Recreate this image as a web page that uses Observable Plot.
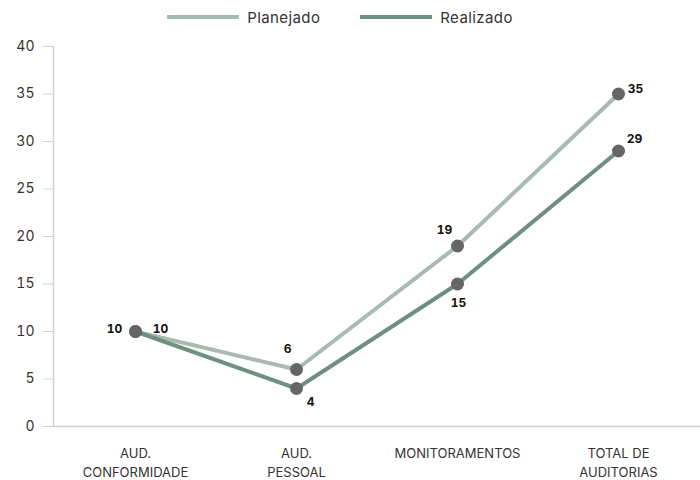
<!DOCTYPE html>
<html>
<head>
<meta charset="utf-8">
<script src="https://cdn.jsdelivr.net/npm/d3@7"></script>
<script src="https://cdn.jsdelivr.net/npm/@observablehq/plot@0.6"></script>
<style>
  html, body { margin: 0; padding: 0; background: #fff; }
  body { width: 700px; font-family: Inter, "Noto Sans", sans-serif; color: #333; }
  .legend { height: 34px; display: flex; justify-content: center; align-items: center; font-size: 15px; letter-spacing: 0.4px; padding-left: 0; padding-right: 20px; box-sizing: border-box; }
  .legend .item { display: flex; align-items: center; margin: 0 20px; }
  .legend .swatch { width: 72px; height: 4px; margin-right: 8px; }
  svg { display: block; }
</style>
</head>
<body>
<div id="chart"></div>
<script>
// Categories and the two series (planned vs. completed audits)
const categories = ["AUD.\nCONFORMIDADE", "AUD.\nPESSOAL", "MONITORAMENTOS", "TOTAL DE\nAUDITORIAS"];
const planejado = [10, 6, 19, 35];
const realizado = [10, 4, 15, 29];
const seriesNames = ["Planejado", "Realizado"];
const seriesColors = ["#a9bab0", "#6f8f81"];
const yTicks = [0, 5, 10, 15, 20, 25, 30, 35, 40];

const rows = [
  ...categories.map((c, i) => ({serie: "Planejado", cat: c, value: planejado[i], idx: i})),
  ...categories.map((c, i) => ({serie: "Realizado", cat: c, value: realizado[i], idx: i}))
];

// Label offsets per series / category, keeping value labels clear of the lines
const labelOffset = {
  Planejado: [[-21, -2], [-9, -20], [-13, -16], [17, -5]],
  Realizado: [[25, -2], [14, 14], [1, 19], [16, -12]]
};

const legend = document.createElement("div");
legend.className = "legend";
seriesNames.forEach((name, i) => {
  const item = document.createElement("div");
  item.className = "item";
  const sw = document.createElement("div");
  sw.className = "swatch";
  sw.style.background = seriesColors[i];
  const tx = document.createElement("span");
  tx.textContent = name;
  item.append(sw, tx);
  legend.append(item);
});

const plot = Plot.plot({
  width: 700,
  height: 446,
  marginTop: 12,
  marginBottom: 54,
  marginLeft: 53,
  marginRight: 0,
  style: {fontFamily: "Inter, 'Noto Sans', sans-serif", fontSize: "14px", color: "#333", background: "#fff"},
  x: {type: "point", domain: categories, padding: 0.5, label: null},
  y: {domain: [0, 40], label: null},
  color: {domain: seriesNames, range: seriesColors},
  marks: [
    Plot.frame({anchor: "left", stroke: "#cfd4d2", strokeWidth: 1.5}),
    Plot.ruleY([0], {stroke: "#cfd4d2", strokeWidth: 1.5}),
    Plot.axisY({ticks: yTicks, tickSize: 10, tickPadding: 9, stroke: "#cfd4d2", fill: "#333", fontSize: 14, label: null}),
    Plot.axisX({tickSize: 0, tickPadding: 18, fontSize: 13, lineHeight: 1.45, fill: "#333", label: null}),
    Plot.line(rows, {x: "cat", y: "value", z: "serie", stroke: "serie", strokeWidth: 4, curve: "linear"}),
    Plot.dot(rows, {x: "cat", y: "value", r: 6.5, fill: "#666", stroke: "none"}),
    ...rows.map(d => Plot.text([d], {
      x: "cat", y: "value", text: "value",
      dx: labelOffset[d.serie][d.idx][0], dy: labelOffset[d.serie][d.idx][1],
      fontWeight: "bold", fontSize: 12, fill: "#111"
    }))
  ]
});

const root = document.getElementById("chart");
root.append(legend, plot);
</script>
</body>
</html>
